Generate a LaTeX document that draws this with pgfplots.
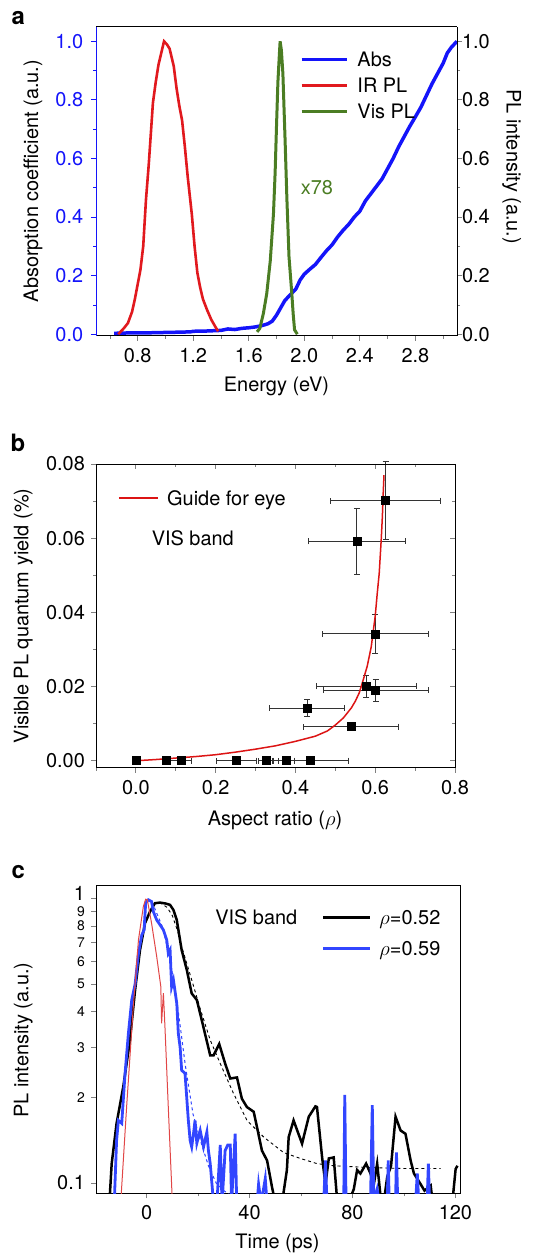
\documentclass[border=0pt]{standalone}
\usepackage{fontspec}
\setmainfont{TeX Gyre Heros}
\usepackage{pgfplots}
\pgfplotsset{compat=1.18}
\newcommand\ft{\fontsize{20}{24}\selectfont}
\newcommand\fs{\fontsize{14}{16}\selectfont}
\definecolor{ablue}{RGB}{20,20,250}
\definecolor{ared}{RGB}{225,25,30}
\definecolor{agreen}{RGB}{75,125,35}
\definecolor{cblue}{RGB}{50,70,255}
\definecolor{cred}{RGB}{225,70,70}
\definecolor{bred}{RGB}{220,20,20}
\pgfplotsset{
  base/.style={scale only axis, tick align=outside,
    major tick length=5bp, minor tick length=3bp,
    tick label style={font=\ft}, label style={font=\ft},
    axis line style={line width=0.8bp},
    every tick/.append style={line width=0.8bp},
    every minor tick/.append style={line width=0.6bp},
    xticklabel style={yshift=-4bp},
    scaled ticks=false,
    legend cell align=left,
  },
}
\begin{document}
\begin{tikzpicture}[x=1bp,y=1bp]
\useasboundingbox (0,0) rectangle (549,1255);

% ---------------- panel a ----------------
\begin{axis}[base, at={(96bp,919.3bp)}, anchor=south west, width=361bp, height=309bp,
  xmin=0.5, xmax=3.1, ymin=-0.005, ymax=1.05,
  axis y line*=left, xtick pos=bottom,
  xtick={0.8,1.2,1.6,2.0,2.4,2.8}, xticklabels={0.8,1.2,1.6,2.0,2.4,2.8},
  minor xtick={0.6,1.0,1.4,1.8,2.2,2.6,3.0},
  ytick={0,0.2,0.4,0.6,0.8,1.0}, yticklabels={0.0,0.2,0.4,0.6,0.8,1.0},
  minor ytick={0.1,0.3,0.5,0.7,0.9},
  y axis line style={ablue}, ytick style={ablue}, minor y tick style={ablue},
  yticklabel style={text=ablue, xshift=-4.3bp},
  xlabel={Energy (eV)}, ylabel={Absorption coefficient (a.u.)},
  every axis x label/.style={at={(axis description cs:0.5,-0.165)}, anchor=center, font=\ft},
  every axis y label/.style={at={(axis description cs:-0.1745,0.5)}, anchor=center, rotate=90, font=\ft},
  legend style={draw=none, fill=none, font=\ft, inner sep=0pt, outer sep=0pt,
    nodes={inner sep=0pt, text height=14.5bp, text depth=0bp},
    row sep=11.5bp, column sep=9bp,
    at={(rel axis cs:0.565,0.918)}, anchor=north west},
  legend image code/.code={\draw[#1] (0bp,0bp) -- (45bp,0bp);},
]
\addplot[ablue, line width=3.5bp] coordinates {
(0.63,0.003)(0.70,0.004)(0.80,0.005)(0.90,0.005)(1.00,0.006)(1.10,0.007)(1.18,0.008)(1.20,0.010)
(1.30,0.011)(1.40,0.013)(1.45,0.018)(1.50,0.016)(1.55,0.020)(1.60,0.022)(1.65,0.025)(1.70,0.030)
(1.74,0.036)(1.77,0.045)(1.80,0.065)(1.83,0.090)(1.86,0.115)(1.90,0.135)(1.94,0.155)(1.97,0.185)
(2.00,0.205)(2.04,0.222)(2.08,0.238)(2.12,0.262)(2.16,0.285)(2.20,0.305)(2.24,0.332)(2.28,0.355)
(2.32,0.375)(2.36,0.40)(2.40,0.42)(2.44,0.455)(2.48,0.48)(2.52,0.505)(2.56,0.53)(2.60,0.565)
(2.64,0.60)(2.68,0.64)(2.72,0.675)(2.76,0.71)(2.80,0.742)(2.84,0.775)(2.88,0.815)(2.92,0.855)
(2.96,0.89)(3.00,0.925)(3.03,0.96)(3.06,0.98)(3.10,1.0)};
\addlegendentry{Abs}
\addplot[ared, line width=2.6bp] coordinates {
(0.66,0.0)(0.70,0.02)(0.73,0.038)(0.76,0.077)(0.78,0.12)(0.80,0.17)(0.82,0.22)(0.84,0.30)
(0.86,0.46)(0.88,0.58)(0.90,0.72)(0.91,0.79)(0.93,0.86)(0.95,0.92)(0.97,0.96)(0.99,1.0)
(1.01,0.99)(1.03,0.975)(1.06,0.915)(1.08,0.84)(1.10,0.78)(1.12,0.73)(1.14,0.64)(1.16,0.54)
(1.19,0.41)(1.21,0.30)(1.23,0.21)(1.25,0.16)(1.27,0.12)(1.30,0.083)(1.33,0.05)(1.36,0.025)(1.38,0.01)};
\addlegendentry{IR PL}
\addplot[agreen, line width=3bp] coordinates {
(1.66,0.008)(1.68,0.02)(1.706,0.072)(1.73,0.14)(1.755,0.25)(1.778,0.41)(1.79,0.55)(1.80,0.71)
(1.81,0.86)(1.82,0.95)(1.826,1.0)(1.835,0.97)(1.846,0.89)(1.855,0.76)(1.862,0.66)(1.875,0.46)
(1.89,0.265)(1.91,0.14)(1.92,0.07)(1.93,0.015)(1.95,0.0)};
\addlegendentry{Vis PL}
\node[anchor=west, text=agreen, font=\ft] at (axis cs:1.95,0.5) {x78};
\end{axis}
\begin{axis}[base, at={(96bp,919.3bp)}, anchor=south west, width=361bp, height=309bp,
  xmin=0.5, xmax=3.1, ymin=-0.005, ymax=1.05,
  axis y line*=right, axis x line=none,
  ytick={0,0.2,0.4,0.6,0.8,1.0}, yticklabels={0.0,0.2,0.4,0.6,0.8,1.0},
  minor ytick={0.1,0.3,0.5,0.7,0.9},
  yticklabel style={xshift=-3.4bp},
  ylabel={PL intensity (a.u.)},
  every axis y label/.style={at={(axis description cs:1.1515,0.547)}, anchor=center, rotate=-90, font=\ft},
]
\addplot[draw=none] coordinates {(1,0.5)};
\end{axis}

% ---------------- panel b ----------------
\begin{axis}[base, at={(96bp,487.3bp)}, anchor=south west, width=359bp, height=303.7bp,
  xmin=-0.1, xmax=0.8, ymin=-0.0019, ymax=0.08, clip=false,
  xtick pos=bottom, ytick pos=left,
  xtick={0,0.2,0.4,0.6,0.8}, xticklabels={0.0,0.2,0.4,0.6,0.8},
  minor xtick={-0.1,0.1,0.3,0.5,0.7},
  ytick={0,0.02,0.04,0.06,0.08}, yticklabels={0.00,0.02,0.04,0.06,0.08},
  minor ytick={0.01,0.03,0.05,0.07},
  yticklabel style={xshift=-2.6bp},
  xlabel={Aspect ratio ($\rho$)}, ylabel={Visible PL quantum yield (\%)},
  every axis x label/.style={at={(axis description cs:0.4986,-0.172)}, anchor=center, font=\ft},
  every axis y label/.style={at={(axis description cs:-0.2025,0.5)}, anchor=center, rotate=90, font=\ft},
  legend style={draw=none, fill=none, font=\ft, inner sep=0pt, outer sep=0pt,
    nodes={inner sep=0pt, text height=14.5bp, text depth=0bp},
    column sep=8.7bp,
    at={(rel axis cs:0.0613,0.912)}, anchor=north west},
  legend image code/.code={\draw[#1] (0bp,0bp) -- (39bp,0bp);},
]
\addplot[only marks, mark=square*, mark size=4bp, black, forget plot,
  error bars/.cd, x dir=both, x explicit, y dir=both, y explicit,
  error bar style={line width=0.9bp, black!80},
  error mark=|, error mark options={mark size=3bp, line width=0.9bp, black!80}]
  table[x=x, y=y, x error=ex, y error=ey] {
x      y       ex     ey
0.000  0.0000  0.005  0
0.077  0.0000  0.010  0
0.113  0.0000  0.026  0
0.252  0.0000  0.050  0
0.326  0.0000  0.018  0
0.378  0.0000  0.020  0
0.437  0.0000  0.095  0
0.429  0.0142  0.095  0.0022
0.539  0.0092  0.120  0
0.578  0.0200  0.125  0.0030
0.601  0.0190  0.132  0.0030
0.600  0.0342  0.133  0.0052
0.554  0.0591  0.121  0.0088
0.626  0.0701  0.137  0.0105
};
\addplot[bred, line width=1.5bp] coordinates {
(0.005,0)(0.05,0.0003)(0.10,0.0007)(0.15,0.0011)(0.20,0.0016)(0.25,0.0023)(0.30,0.0031)
(0.35,0.0040)(0.40,0.0052)(0.45,0.0066)(0.48,0.0080)(0.50,0.0096)(0.52,0.0115)(0.54,0.0142)
(0.55,0.0160)(0.56,0.0183)(0.57,0.0218)(0.58,0.0255)(0.59,0.0307)(0.60,0.0390)(0.605,0.045)
(0.61,0.0505)(0.615,0.0595)(0.618,0.066)(0.62,0.072)(0.622,0.077)};
\addlegendentry{Guide for eye}
\node[anchor=west, font=\ft] at (rel axis cs:0.1457,0.7553) {VIS band};
\end{axis}
\begin{axis}[base, at={(96bp,487.3bp)}, anchor=south west, width=359bp, height=303.7bp,
  xmin=-0.1, xmax=0.8, ymin=-0.0019, ymax=0.08, tick align=inside,
  xtick pos=top, ytick pos=right, xticklabels={}, yticklabels={},
  xtick={0,0.2,0.4,0.6,0.8}, minor xtick={-0.1,0.1,0.3,0.5,0.7},
  ytick={0,0.02,0.04,0.06,0.08}, minor ytick={0.01,0.03,0.05,0.07},
]
\addplot[draw=none] coordinates {(0.3,0.04)};
\end{axis}

% ---------------- panel c ----------------
\begin{axis}[base, at={(96bp,61.7bp)}, anchor=south west, width=364bp, height=308.3bp,
  xmin=-19.7, xmax=121.8, ymode=log, ymin=0.092, ymax=1.116,
  xtick pos=bottom, ytick pos=left,
  xtick={0,40,80,120}, xticklabels={0,40,80,120}, minor xtick={20,60,100},
  ytick={0.1,0.2,0.3,0.4,0.5,0.6,0.7,0.8,0.9},
  yticklabels={0.1,{\fs 2},{\fs 3},{\fs 4},{\fs 5},{\fs 6},{\fs 7},{\fs 8},{\fs 9}},
  yminorticks=false,
  extra y ticks={1}, extra y tick labels={1},
  extra y tick style={yticklabel style={yshift=5bp}},
  yticklabel style={xshift=-2.6bp},
  xlabel={Time (ps)}, ylabel={PL intensity (a.u.)},
  every axis x label/.style={at={(axis description cs:0.4986,-0.162)}, anchor=center, font=\ft},
  every axis y label/.style={at={(axis description cs:-0.2,0.497)}, anchor=center, rotate=90, font=\ft},
  legend style={draw=none, fill=none, font=\ft, inner sep=0pt, outer sep=0pt,
    nodes={inner sep=0pt, text height=14.5bp, text depth=0bp},
    row sep=16.1bp, column sep=8.4bp,
    at={(rel axis cs:0.62,0.9175)}, anchor=north west},
  legend image code/.code={\draw[#1] (0bp,0bp) -- (46.6bp,0bp);},
]
\addplot[black, line width=2.5bp] coordinates {
(-14.5,0.085)(-13.6,0.117)(-11.7,0.162)(-9.1,0.218)(-6.5,0.318)(-4.5,0.477)(-2.6,0.659)
(-0.65,0.819)(1.3,0.90)(3.2,0.963)(5.2,0.968)(7.5,0.96)(9.1,0.95)(10.4,0.912)(11.7,0.841)
(13.6,0.659)(15.6,0.561)(17.5,0.464)(19.5,0.44)(21.4,0.374)(24.7,0.281)(26,0.281)(28.2,0.308)
(30.5,0.263)(32.5,0.233)(35.1,0.235)(37,0.198)(38.96,0.185)(41.6,0.178)(42.9,0.157)(44.8,0.130)
(46.8,0.120)(48.7,0.097)(50,0.085)(52.6,0.085)(54.5,0.111)(55.2,0.145)(57.1,0.166)(60.4,0.1375)
(63,0.171)(65.6,0.186)(66.2,0.185)(68.2,0.123)(69.5,0.099)(70.8,0.122)(72.7,0.123)(74,0.088)
(79,0.088)(80.5,0.095)(81.8,0.111)(83.1,0.108)(85.3,0.117)(87,0.108)(88.3,0.099)(89.6,0.117)
(90.9,0.09)(92.5,0.09)(93.5,0.105)(95,0.115)(96.75,0.171)(98.7,0.153)(100.6,0.149)(102.6,0.12)
(103.9,0.108)(106.5,0.099)(108,0.094)(110.4,0.098)(111,0.088)(118.8,0.085)(120.1,0.112)(120.8,0.115)};
\addlegendentry{$\rho$=0.52}
\addplot[black, line width=0.9bp, dash pattern=on 3bp off 3bp, forget plot] coordinates {
(5,0.97)(8,0.93)(10,0.87)(12,0.77)(14,0.66)(16,0.575)(18,0.50)(20.8,0.41)(24.7,0.318)
(28.6,0.263)(33.8,0.206)(39,0.166)(45.5,0.145)(53.2,0.128)(59.7,0.122)(66.2,0.117)
(72.7,0.115)(85.7,0.1134)(98.7,0.1125)(114.3,0.1125)};
\addplot[cblue, line width=2.8bp] coordinates {
(-12.6,0.085)(-11.7,0.141)(-11,0.166)(-9.7,0.162)(-8.4,0.243)(-7.1,0.336)(-5.8,0.44)(-4.5,0.50)
(-3.2,0.642)(-1.9,0.745)(-1,0.776)(-0.4,0.963)(0.65,0.99)(1.9,0.976)(2.6,0.90)(3.9,0.841)
(5.2,0.808)(6.5,0.776)(7.8,0.715)(8.4,0.642)(9.1,0.66)(9.7,0.49)(10.4,0.517)(11.7,0.428)
(12.3,0.336)(13,0.30)(13.6,0.249)(14.9,0.243)(16.2,0.166)(16.9,0.141)(17.5,0.134)(18.2,0.149)
(18.8,0.166)(19.5,0.138)(20.8,0.153)(22.1,0.134)(23.4,0.151)(24,0.13)(24.7,0.117)(26,0.085)
(27.3,0.085)(28.6,0.136)(29.3,0.085)(30.5,0.13)(31.5,0.136)(32.5,0.136)(33,0.085)(34.4,0.149)
(35,0.085)(42.9,0.085)(43.5,0.099)(44.5,0.085)(46.1,0.1037)(46.8,0.085)(68.8,0.085)(69.5,0.12)
(70.1,0.085)(76.6,0.085)(77,0.204)(77.5,0.085)(87,0.085)(87.7,0.188)(88.3,0.085)(89.6,0.095)
(90.5,0.085)(93.5,0.085)(93.9,0.12)(94.3,0.085)(96.75,0.085)(97.1,0.128)(97.6,0.085)(104.5,0.085)
(105.2,0.108)(105.8,0.085)(109,0.085)(109.5,0.117)(110,0.085)};
\addlegendentry{$\rho$=0.59}
\addplot[cblue, line width=1bp, dash pattern=on 3bp off 3bp, forget plot] coordinates {
(3,0.93)(6,0.80)(9,0.62)(12,0.42)(15,0.26)(18,0.175)(21,0.14)(24,0.115)(27,0.10)(30,0.094)(33,0.09)};
\addplot[cred, line width=1bp, forget plot] coordinates {
(-10.1,0.085)(-7.8,0.185)(-5.2,0.417)(-3.2,0.715)(-1.3,0.937)(-0.4,0.995)(0.26,0.99)(1.9,0.819)
(3.9,0.625)(5.5,0.49)(5.8,0.364)(6.5,0.465)(7.1,0.355)(8.4,0.185)(10,0.085)};
\node[anchor=west, font=\ft] at (rel axis cs:0.318,0.894) {VIS band};
\end{axis}

\node[font=\fontsize{24}{28}\selectfont\bfseries] at (18.3,1236.7) {a};
\node[font=\fontsize{24}{28}\selectfont\bfseries] at (18,812) {b};
\node[font=\fontsize{24}{28}\selectfont\bfseries] at (18.3,383.3) {c};
\end{tikzpicture}
\end{document}
